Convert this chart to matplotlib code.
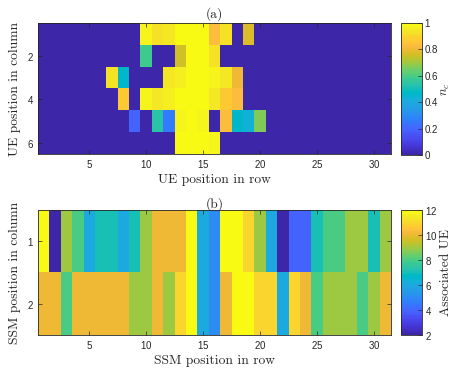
import numpy as np
import matplotlib
matplotlib.use('Agg')
import matplotlib.pyplot as plt
from matplotlib.colors import ListedColormap

plt.rcParams['font.family'] = ['Liberation Sans', 'DejaVu Sans']
plt.rcParams['mathtext.fontset'] = 'cm'
plt.rcParams['axes.formatter.use_mathtext'] = True

# parula colormap (64 samples)
parula_data = [
    [0.2422, 0.1504, 0.6603], [0.2504, 0.1650, 0.7076], [0.2578, 0.1818, 0.7511], [0.2647, 0.1978, 0.7952],
    [0.2706, 0.2147, 0.8364], [0.2751, 0.2342, 0.8710], [0.2783, 0.2559, 0.8991], [0.2803, 0.2782, 0.9221],
    [0.2813, 0.3006, 0.9414], [0.2810, 0.3228, 0.9579], [0.2795, 0.3447, 0.9717], [0.2760, 0.3667, 0.9829],
    [0.2699, 0.3892, 0.9906], [0.2602, 0.4123, 0.9952], [0.2440, 0.4358, 0.9988], [0.2206, 0.4603, 0.9973],
    [0.1963, 0.4847, 0.9892], [0.1834, 0.5074, 0.9798], [0.1786, 0.5289, 0.9682], [0.1764, 0.5499, 0.9520],
    [0.1687, 0.5703, 0.9359], [0.1540, 0.5902, 0.9218], [0.1460, 0.6091, 0.9079], [0.1380, 0.6276, 0.8973],
    [0.1248, 0.6459, 0.8883], [0.1113, 0.6635, 0.8763], [0.0952, 0.6798, 0.8598], [0.0689, 0.6948, 0.8394],
    [0.0297, 0.7082, 0.8163], [0.0036, 0.7203, 0.7917], [0.0067, 0.7312, 0.7660], [0.0433, 0.7411, 0.7394],
    [0.0964, 0.7500, 0.7120], [0.1408, 0.7584, 0.6842], [0.1717, 0.7670, 0.6554], [0.1938, 0.7758, 0.6251],
    [0.2161, 0.7843, 0.5923], [0.2470, 0.7918, 0.5567], [0.2906, 0.7973, 0.5188], [0.3406, 0.8008, 0.4789],
    [0.3909, 0.8029, 0.4354], [0.4456, 0.8024, 0.3909], [0.5044, 0.7993, 0.3480], [0.5616, 0.7942, 0.3045],
    [0.6174, 0.7876, 0.2612], [0.6720, 0.7793, 0.2227], [0.7242, 0.7698, 0.1910], [0.7738, 0.7598, 0.1646],
    [0.8203, 0.7498, 0.1535], [0.8634, 0.7406, 0.1596], [0.9035, 0.7330, 0.1774], [0.9393, 0.7288, 0.2100],
    [0.9728, 0.7298, 0.2394], [0.9956, 0.7434, 0.2371], [0.9970, 0.7659, 0.2199], [0.9952, 0.7893, 0.2028],
    [0.9892, 0.8136, 0.1885], [0.9786, 0.8386, 0.1766], [0.9676, 0.8639, 0.1643], [0.9610, 0.8890, 0.1537],
    [0.9597, 0.9135, 0.1423], [0.9628, 0.9373, 0.1265], [0.9691, 0.9606, 0.1064], [0.9769, 0.9839, 0.0805],
]
parula = ListedColormap(parula_data, name='parula')

# (a) UE occupancy, 6 rows x 31 columns
ue_row1 = [0, 0, 0, 0, 0, 0, 0, 0, 0, 0.98, 0.93, 0.95, 1, 1, 1, 0.84, 0.93, 0, 0.78, 0,
           0, 0, 0, 0, 0, 0, 0, 0, 0, 0, 0]
ue_row2 = [0, 0, 0, 0, 0, 0, 0, 0, 0, 0.59, 0, 0, 0.76, 1, 1, 0.93, 0, 0, 0, 0,
           0, 0, 0, 0, 0, 0, 0, 0, 0, 0, 0]
ue_row3 = [0, 0, 0, 0, 0, 0, 0.93, 0.46, 0, 0, 0, 0.95, 0.96, 1, 1, 0.97, 0.95, 0.8, 0, 0,
           0, 0, 0, 0, 0, 0, 0, 0, 0, 0, 0]
ue_row4 = [0, 0, 0, 0, 0, 0, 0, 0.87, 0, 0.98, 0.95, 0.96, 1, 1, 1, 0.94, 0.86, 0.83, 0, 0,
           0, 0, 0, 0, 0, 0, 0, 0, 0, 0, 0]
ue_row5 = [0, 0, 0, 0, 0, 0, 0, 0, 0.19, 0, 0.54, 0.25, 0.97, 1, 0.98, 0, 0.84, 0.46, 0.43, 0.67,
           0, 0, 0, 0, 0, 0, 0, 0, 0, 0, 0]
ue_row6 = [0, 0, 0, 0, 0, 0, 0, 0, 0, 0, 0, 0, 1, 1, 1, 0.97, 0, 0, 0, 0,
           0, 0, 0, 0, 0, 0, 0, 0, 0, 0, 0]

# (b) associated UE per SSM, 2 rows x 31 columns
ssm_row1 = [12, 2, 9, 8, 6, 7, 7, 6, 7, 9, 10, 10, 10, 12, 6, 5, 12, 12, 11, 9,
            6, 2, 4, 4, 7, 8, 8, 9, 9, 7, 9]
ssm_row2 = [10, 10, 8, 10, 10, 10, 10, 10, 9, 9, 10, 9, 11, 12, 6, 5, 10, 12, 12, 11,
            11, 6, 11, 10, 8, 9, 9, 9, 8, 9, 10]

ue = np.array([ue_row1, ue_row2, ue_row3, ue_row4, ue_row5, ue_row6])
ssm = np.array([ssm_row1, ssm_row2])

edge = (0.15, 0.15, 0.15)
lab = dict(fontfamily='cmr10', fontsize=9.7, color=edge)

fig = plt.figure(figsize=(4.54, 3.79), dpi=100)
W, H = 454.0, 379.0


def box(l, t, r, b):
    return [l / W, 1 - b / H, (r - l) / W, (b - t) / H]


def style(ax):
    for s in ax.spines.values():
        s.set_color(edge)
        s.set_linewidth(0.6)
    ax.tick_params(direction='in', length=3, width=0.5, color=edge, labelsize=7,
                   top=True, right=True, labelcolor=edge, pad=3)


ax1 = fig.add_axes(box(38, 23, 391, 154))
im1 = ax1.imshow(ue, cmap=parula, vmin=0, vmax=1, aspect='auto',
                 extent=[0.5, 31.5, 6.5, 0.5], interpolation='nearest')
ax1.set_xticks([5, 10, 15, 20, 25, 30])
ax1.set_yticks([2, 4, 6])
style(ax1)
ax1.set_title('(a)', pad=4, **lab)
ax1.set_xlabel('UE position in row', labelpad=3, **lab)
ax1.set_ylabel('UE position in column', labelpad=4, **lab)

cax1 = fig.add_axes(box(401, 23, 422, 155))
cb1 = fig.colorbar(im1, cax=cax1, ticks=[0, 0.2, 0.4, 0.6, 0.8, 1])
cb1.ax.set_yticklabels(['0', '0.2', '0.4', '0.6', '0.8', '1'])
cb1.outline.set_edgecolor(edge)
cb1.outline.set_linewidth(0.6)
cb1.ax.tick_params(direction='in', length=3, width=0.5, color=edge, labelsize=7, labelcolor=edge, pad=2)
cb1.set_label('$n_c$', fontsize=9, labelpad=1, color=edge)

ax2 = fig.add_axes(box(38, 210, 391, 335))
im2 = ax2.imshow(ssm, cmap=parula, vmin=2, vmax=12, aspect='auto',
                 extent=[0.5, 31.5, 2.5, 0.5], interpolation='nearest')
ax2.set_xticks([5, 10, 15, 20, 25, 30])
ax2.set_yticks([1, 2])
style(ax2)
ax2.set_title('(b)', pad=2, **lab)
ax2.set_xlabel('SSM position in row', labelpad=3, **lab)
ax2.set_ylabel('SSM position in column', labelpad=4, **lab)

cax2 = fig.add_axes(box(401, 210, 422, 335))
cb2 = fig.colorbar(im2, cax=cax2, ticks=[2, 4, 6, 8, 10, 12])
cb2.outline.set_edgecolor(edge)
cb2.outline.set_linewidth(0.6)
cb2.ax.tick_params(direction='in', length=3, width=0.5, color=edge, labelsize=7, labelcolor=edge, pad=2)
cb2.set_label('Associated UE', labelpad=2, **lab)

fig.savefig('out.png', dpi=100)
